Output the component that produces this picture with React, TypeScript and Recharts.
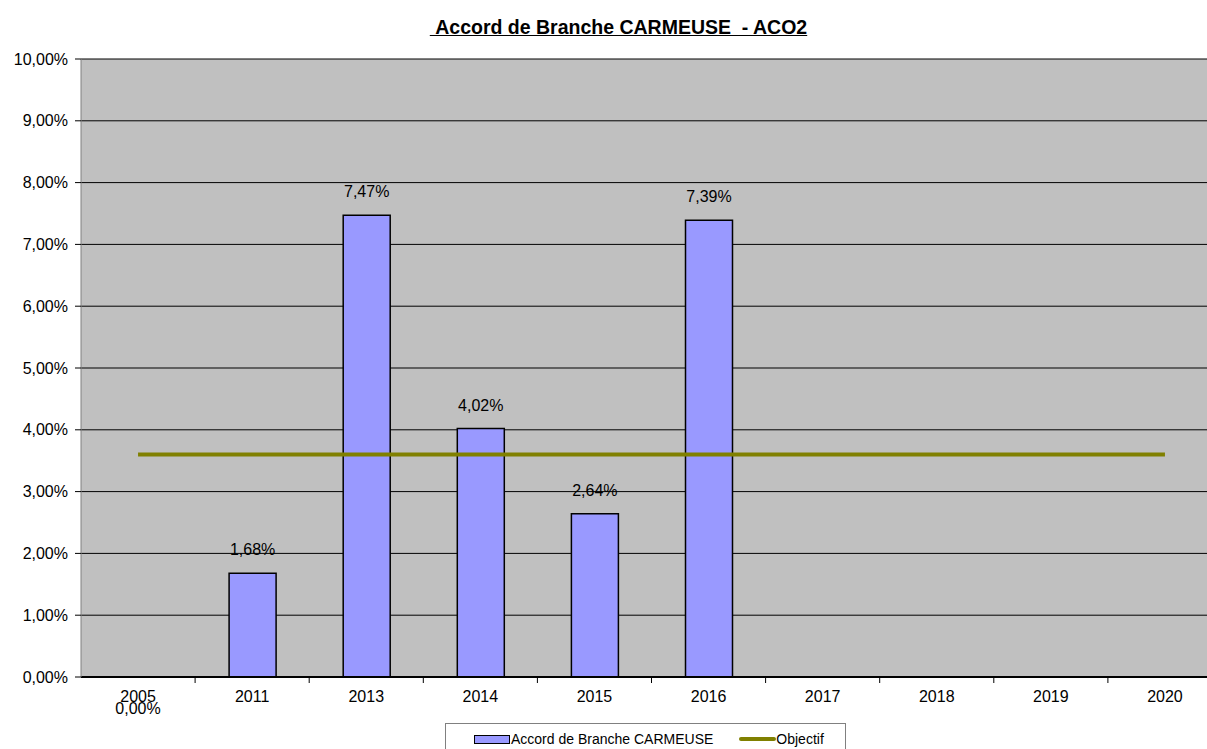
import React from "react";
import {
  ComposedChart,
  Bar,
  Line,
  XAxis,
  YAxis,
  CartesianGrid,
  LabelList,
} from "recharts";

const years = ["2005", "2011", "2013", "2014", "2015", "2016", "2017", "2018", "2019", "2020"];
const carmeuse: (number | null)[] = [0, 1.68, 7.47, 4.02, 2.64, 7.39, null, null, null, null];
const objectif = [3.6, 3.6, 3.6, 3.6, 3.6, 3.6, 3.6, 3.6, 3.6, 3.6];
const yTicks = [0, 1, 2, 3, 4, 5, 6, 7, 8, 9, 10];

const data = years.map((year, i) => ({
  year,
  carmeuse: carmeuse[i],
  objectif: objectif[i],
}));

const FONT = "'Liberation Sans', Arial, sans-serif";
const W = 1207;
const H = 749;
// plot area runs past the right edge of the picture, like the original export
const CHART_W = 1222;
const AXIS_W = 81;
const BAND = (CHART_W - AXIS_W) / years.length;

const fmt = (v: number) => v.toFixed(2).replace(".", ",") + "%";

const XTick = (props: any) => {
  const { x, y, payload, index } = props;
  const v = carmeuse[index];
  return (
    <g>
      {index > 0 && (
        <line x1={x - BAND / 2} x2={x - BAND / 2} y1={y - 8} y2={y - 2} stroke="#000" />
      )}
      <text x={x} y={y + 17} textAnchor="middle" fontSize={16} fill="#000" fontFamily={FONT}>
        {payload.value}
      </text>
      {/* Excel drops the zero value label under the axis */}
      {v === 0 && (
        <text x={x} y={y + 29} textAnchor="middle" fontSize={16} fill="#000" fontFamily={FONT}>
          {fmt(v)}
        </text>
      )}
    </g>
  );
};

const BarLabel = (props: any) => {
  const { x, y, width, value } = props;
  if (value == null || value === 0) return null;
  return (
    <text x={x + width / 2} y={y - 18} textAnchor="middle" fontSize={16} fill="#000" fontFamily={FONT}>
      {fmt(value)}
    </text>
  );
};

const LegendBox = () => (
  <div
    style={{
      position: "absolute",
      left: 445,
      top: 723,
      width: 401,
      height: 40,
      border: "1px solid #808080",
      background: "#fff",
      fontFamily: FONT,
      fontSize: 14,
      display: "flex",
      alignItems: "flex-start",
      paddingTop: 7,
      boxSizing: "border-box",
    }}
  >
    <span style={{ display: "flex", alignItems: "center", marginLeft: 28 }}>
      <span
        style={{
          display: "inline-block",
          width: 34,
          height: 7,
          background: "#9999FF",
          border: "1px solid #000",
        }}
      />
      <span style={{ marginLeft: 1 }}>Accord de Branche CARMEUSE</span>
    </span>
    <span style={{ display: "flex", alignItems: "center", marginLeft: 26 }}>
      <span
        style={{
          display: "inline-block",
          width: 37,
          height: 4,
          background: "#808000",
          borderRadius: 2,
        }}
      />
      <span>Objectif</span>
    </span>
  </div>
);

export default function App() {
  return (
    <div
      style={{
        position: "absolute",
        left: 0,
        top: 0,
        width: W,
        height: H,
        background: "#fff",
        overflow: "hidden",
        fontFamily: FONT,
      }}
    >
      <div
        style={{
          position: "absolute",
          left: 0,
          top: 16,
          width: W + 30,
          textAlign: "center",
          fontSize: 19.5,
          fontWeight: "bold",
          textDecoration: "underline",
        }}
      >
        {"\u00a0Accord de Branche CARMEUSE\u00a0 - ACO2"}
      </div>
      <ComposedChart
        width={CHART_W}
        height={H}
        data={data}
        margin={{ top: 59, right: 0, bottom: 0, left: 0 }}
        barCategoryGap={0}
      >
        <CartesianGrid fill="#C0C0C0" stroke="#000" strokeWidth={1} vertical={false} />
        <XAxis
          dataKey="year"
          axisLine={{ stroke: "#000", strokeWidth: 2 }}
          tickLine={false}
          tick={<XTick />}
          interval={0}
          height={72}
        />
        <YAxis
          domain={[0, 10]}
          ticks={yTicks}
          width={AXIS_W}
          tickFormatter={fmt}
          axisLine={{ stroke: "#808080", strokeWidth: 1 }}
          tickLine={{ stroke: "#000" }}
          tickSize={6}
          tickMargin={7}
          tick={{ fontSize: 16, fill: "#000", fontFamily: FONT }}
          interval={0}
        />
        <Bar
          dataKey="carmeuse"
          barSize={47}
          fill="#9999FF"
          stroke="#000"
          strokeWidth={1.5}
          isAnimationActive={false}
        >
          <LabelList dataKey="carmeuse" content={<BarLabel />} />
        </Bar>
        <Line
          dataKey="objectif"
          type="linear"
          stroke="#808000"
          strokeWidth={4}
          dot={false}
          activeDot={false}
          isAnimationActive={false}
        />
      </ComposedChart>
      <LegendBox />
    </div>
  );
}
